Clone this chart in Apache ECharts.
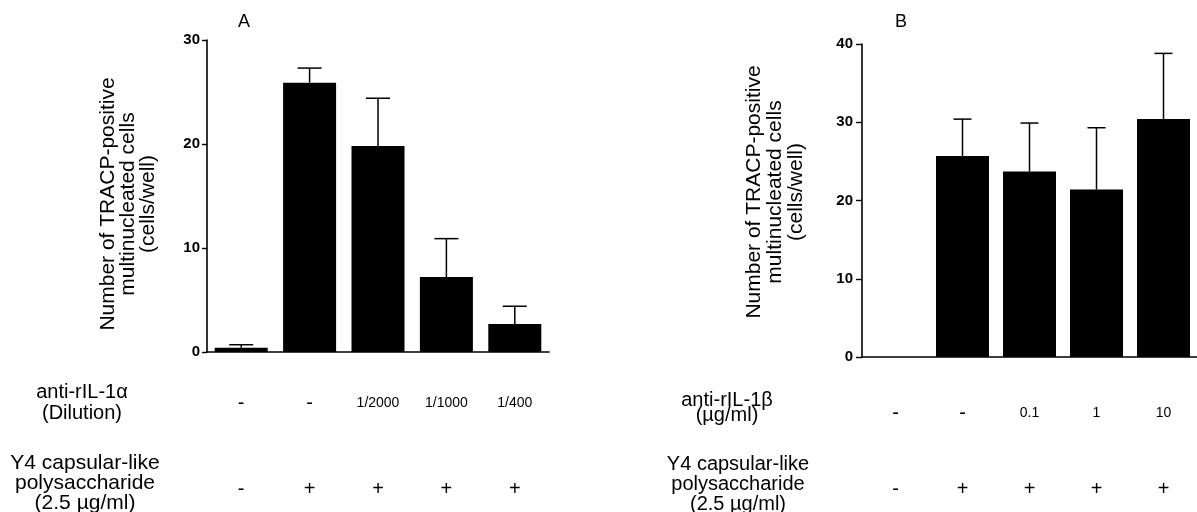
<!DOCTYPE html>
<html>
<head>
<meta charset="utf-8">
<script src="https://cdn.jsdelivr.net/npm/echarts@6/dist/echarts.min.js"></script>
<style>
  html, body { margin: 0; padding: 0; background: #fff; }
  #chart { width: 1197px; height: 512px; }
</style>
</head>
<body>
<div id="chart"></div>
<script>
// panel A: anti-rIL-1alpha dilution
const doseA = ['-', '-', '1/2000', '1/1000', '1/400'];
const polyA = ['-', '+', '+', '+', '+'];
const meanA = [0.4, 25.9, 19.8, 7.2, 2.7];
const sdA = [0.3, 1.4, 4.6, 3.7, 1.7];

// panel B: anti-rIL-1beta (ug/ml)
const doseB = ['-', '-', '0.1', '1', '10'];
const polyB = ['-', '+', '+', '+', '+'];
const meanB = [0, 25.7, 23.7, 21.4, 30.4];
const sdB = [null, 4.7, 6.2, 7.9, 8.4];

const ticksA = { min: 0, max: 30, interval: 10 };
const ticksB = { min: 0, max: 40, interval: 10 };

const FONT = 'Liberation Sans';
const chart = echarts.init(document.getElementById('chart'), null, { renderer: 'canvas' });

// upper error bar drawn in data coordinates
function errorBar(capWidth) {
  return function (params, api) {
    const err = api.value(2);
    if (err == null || isNaN(err)) return null;
    const x = api.value(0);
    const m = api.value(1);
    const p0 = api.coord([x, m]);
    const p1 = api.coord([x, m + err]);
    const style = { stroke: '#000', lineWidth: 1.5 };
    return {
      type: 'group',
      children: [
        { type: 'line', shape: { x1: p0[0], y1: p0[1], x2: p1[0], y2: p1[1] }, style: style },
        { type: 'line', shape: { x1: p1[0] - capWidth / 2, y1: p1[1], x2: p1[0] + capWidth / 2, y2: p1[1] }, style: style }
      ]
    };
  };
}

function rowLabel(fontSize) {
  return {
    show: true, margin: 0, interval: 0, color: '#000', fontFamily: FONT,
    fontSize: fontSize, lineHeight: 20,
    formatter: v => v === '-' || v === '+' ? '{s|' + v + '}' : v,
    rich: { s: { fontSize: 20, lineHeight: 20, fontFamily: FONT, color: '#000' } }
  };
}

function hiddenRow(grid, data, offset, fontSize) {
  return {
    type: 'category', gridIndex: grid, data: data, position: 'bottom', offset: offset,
    axisLine: { show: false }, axisTick: { show: false }, splitLine: { show: false },
    axisLabel: rowLabel(fontSize)
  };
}

function valueAxis(grid, t, margin, tick) {
  return {
    type: 'value', gridIndex: grid, min: t.min, max: t.max, interval: t.interval,
    axisLine: { show: true, lineStyle: { color: '#000', width: 1.6 } },
    axisTick: { show: true, length: tick, lineStyle: { color: '#000', width: 1.4 } },
    splitLine: { show: false },
    axisLabel: { color: '#000', fontFamily: FONT, fontSize: 15, fontWeight: 'bold', margin: margin }
  };
}

function mainX(grid, data) {
  return {
    type: 'category', gridIndex: grid, data: data,
    axisLine: { show: true, lineStyle: { color: '#000', width: 1.6 } },
    axisTick: { show: false }, axisLabel: { show: false }
  };
}

const yTitle = 'Number of TRACP-positive\nmultinucleated cells\n(cells/well)';

const option = {
  animation: false,
  backgroundColor: '#fff',
  textStyle: { fontFamily: FONT },
  grid: [
    { left: 207, top: 40, width: 342, height: 312 },
    { left: 862, top: 44, width: 342, height: 313 }
  ],
  xAxis: [
    mainX(0, doseA),
    hiddenRow(0, doseA, 41, 14),
    hiddenRow(0, polyA, 127, 20),
    mainX(1, doseB),
    hiddenRow(1, doseB, 46, 14),
    hiddenRow(1, polyB, 122, 20)
  ],
  yAxis: [
    valueAxis(0, ticksA, 7, 5),
    valueAxis(1, ticksB, 9, 6)
  ],
  series: [
    {
      type: 'bar', xAxisIndex: 0, yAxisIndex: 0, data: meanA, barWidth: 53,
      itemStyle: { color: '#000' }
    },
    {
      type: 'custom', xAxisIndex: 0, yAxisIndex: 0, z: 5,
      renderItem: errorBar(24),
      data: meanA.map((m, i) => [i, m, sdA[i]])
    },
    {
      type: 'bar', xAxisIndex: 3, yAxisIndex: 1, data: meanB, barWidth: 53,
      itemStyle: { color: '#000' }
    },
    {
      type: 'custom', xAxisIndex: 3, yAxisIndex: 1, z: 5,
      renderItem: errorBar(18),
      data: meanB.map((m, i) => [i, m, sdB[i]])
    }
  ],
  graphic: [
    { type: 'text', x: 244, y: 22, style: { text: 'A', font: '18px ' + FONT, fill: '#000', align: 'center', verticalAlign: 'middle' } },
    { type: 'text', x: 901, y: 22, style: { text: 'B', font: '18px ' + FONT, fill: '#000', align: 'center', verticalAlign: 'middle' } },
    { type: 'text', x: 128, y: 204, rotation: Math.PI / 2,
      style: { text: yTitle, font: '21px ' + FONT, lineHeight: 20, fill: '#000', align: 'center', verticalAlign: 'middle' } },
    { type: 'text', x: 775, y: 192, rotation: Math.PI / 2,
      style: { text: yTitle, font: '21px ' + FONT, lineHeight: 21, fill: '#000', align: 'center', verticalAlign: 'middle' } },
    { type: 'text', x: 82, y: 403,
      style: { text: 'anti-rIL-1\u03b1\n(Dilution)', font: '20px ' + FONT, lineHeight: 21, fill: '#000', align: 'center', verticalAlign: 'middle' } },
    { type: 'text', x: 85, y: 483,
      style: { text: 'Y4 capsular-like\npolysaccharide\n(2.5 \u00b5g/ml)', font: '21px ' + FONT, lineHeight: 20, fill: '#000', align: 'center', verticalAlign: 'middle' } },
    { type: 'text', x: 727, y: 408,
      style: { text: 'anti-rIL-1\u03b2\n(\u00b5g/ml)', font: '20px ' + FONT, lineHeight: 15, fill: '#000', align: 'center', verticalAlign: 'middle' } },
    { type: 'text', x: 738, y: 484,
      style: { text: 'Y4 capsular-like\npolysaccharide\n(2.5 \u00b5g/ml)', font: '20px ' + FONT, lineHeight: 20, fill: '#000', align: 'center', verticalAlign: 'middle' } }
  ]
};

chart.setOption(option);
</script>
</body>
</html>
